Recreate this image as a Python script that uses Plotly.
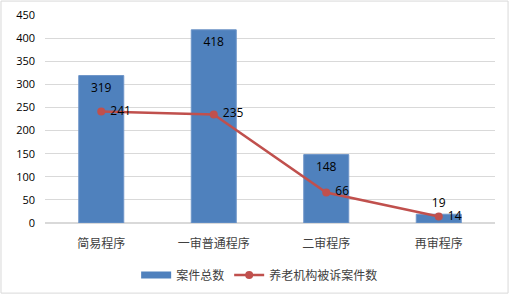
import plotly.graph_objects as go

categories = ["简易程序", "一审普通程序", "二审程序", "再审程序"]
total_cases = [319, 418, 148, 19]
elderly_cases = [241, 235, 66, 14]
yticks = [0, 50, 100, 150, 200, 250, 300, 350, 400, 450]

num_font = "Open Sans, Liberation Sans, sans-serif"
cjk_font = "Noto Sans CJK SC, sans-serif"
bar_color = "#4F81BD"
line_color = "#C0504D"

# small bars get their label outside (above), like the reference
bar_text_pos = ["inside" if v > 60 else "outside" for v in total_cases]

fig = go.Figure()
fig.add_trace(go.Bar(
    x=categories, y=total_cases, name="案件总数", showlegend=False,
    marker=dict(color=bar_color, line=dict(color="#6E95C8", width=1)),
    text=[str(v) for v in total_cases],
    textposition=bar_text_pos, insidetextanchor="end", textangle=0,
    constraintext="none", cliponaxis=False,
    textfont=dict(family=num_font, size=12, color="#000000"),
))
# legend entry for the bars (wide rectangle swatch)
fig.add_trace(go.Scatter(
    x=[None], y=[None], name="案件总数", mode="lines",
    line=dict(color=bar_color, width=7),
))
fig.add_trace(go.Scatter(
    x=categories, y=elderly_cases, name="养老机构被诉案件数",
    mode="lines+markers+text",
    line=dict(color=line_color, width=2.5),
    marker=dict(color=line_color, size=8),
    text=["\u00a0" + str(v) for v in elderly_cases],
    textposition="middle right", cliponaxis=False,
    textfont=dict(family=num_font, size=12, color="#000000"),
))

fig.update_layout(
    width=511, height=295,
    margin=dict(l=45, r=16, t=15, b=72, autoexpand=False),
    paper_bgcolor="white", plot_bgcolor="white",
    bargap=0.6,
    showlegend=True,
    legend=dict(orientation="h", x=0.477, xanchor="center",
                yref="container", y=1 - 275 / 295, yanchor="middle",
                font=dict(family=cjk_font, size=12, color="#404040"),
                tracegroupgap=0),
    xaxis=dict(showgrid=False, showline=False, ticks="", automargin=False,
               ticklabelstandoff=12,
               tickfont=dict(family=cjk_font, size=12, color="#404040")),
    yaxis=dict(range=[0, 450], tickvals=yticks, showgrid=True, gridcolor="#D9D9D9",
               gridwidth=1, zeroline=True, zerolinecolor="#D9D9D9", showline=False,
               automargin=False, ticklabelstandoff=9,
               tickfont=dict(family=num_font, size=11, color="#000000"), ticks=""),
    shapes=[dict(type="rect", xref="paper", yref="paper",
                 x0=-0.0978, x1=1.029, y0=-0.337, y1=1.067,
                 line=dict(color="#D9D9D9", width=1), fillcolor="rgba(0,0,0,0)", layer="below")],
)

fig.write_html("out.html", config={"displayModeBar": False},
               post_script="document.body.style.margin='0';")
